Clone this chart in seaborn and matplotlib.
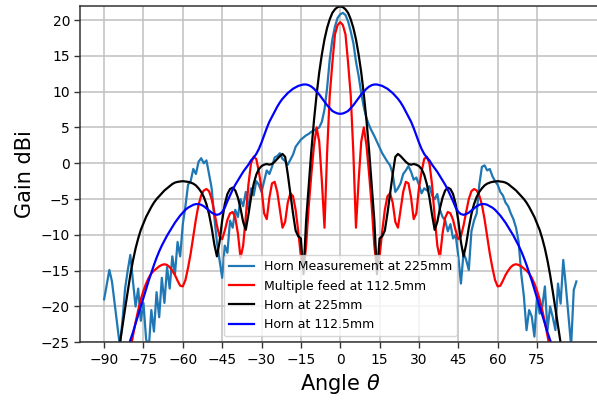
import numpy as np
import pandas as pd
import matplotlib
matplotlib.use("Agg")
import matplotlib.pyplot as plt
import seaborn as sns

angles = list(range(-90, 91))

measured = [
    -19.0, -17.0, -14.9, -16.5, -19.5, -22.5, -25.5, -22.0, -17.5, -15.0,
    -12.8, -16.5, -20.0, -17.5, -22.0, -19.5, -24.5, -26.0, -20.5, -23.5,
    -18.0, -21.5, -16.0, -19.5, -14.5, -17.5, -13.0, -15.5, -11.0, -13.0,
    -8.5, -6.0, -3.0, -2.5, -0.8, -1.5, 0.2, 0.7, 0.0, 0.4,
    -1.5, -3.5, -7.5, -11.0, -13.5, -16.0, -11.5, -12.5, -8.0, -9.0,
    -6.5, -7.5, -5.0, -6.0, -4.0, -6.5, -3.5, -4.5, -2.5, -3.0,
    -4.0, -2.5, -1.0, -1.5, -0.5, 0.8, 1.0, 1.4, 0.6, 0.3,
    -0.2, 0.5, 1.2, 2.3, 2.8, 3.3, 3.6, 3.9, 4.1, 4.4,
    4.6, 4.8, 5.0, 5.8, 7.5, 10.5, 14.5, 17.3, 19.1, 20.3,
    20.8,
    21.0, 20.7, 19.8, 18.4, 16.8, 14.2, 12.2, 9.8, 7.8, 6.3,
    5.3, 4.5, 3.8, 3.0, 2.2, 1.4, 0.8, 0.2, -0.3, -1.5,
    -4.0, -3.5, -2.8, -1.5, -1.0, -0.4, -1.2, -2.3, -2.0, -3.0,
    -4.2, -3.5, -3.8, -3.2, -4.5, -5.0, -4.3, -6.5, -7.5, -8.0,
    -9.5, -8.5, -10.5, -10.0, -13.0, -16.8, -12.5, -13.5, -14.9, -9.5,
    -8.0, -7.0, -3.0, -0.5, -0.3, -1.0, -0.8, -1.8, -2.5, -3.0,
    -4.0, -4.5, -5.5, -6.0, -7.0, -7.8, -9.0, -11.0, -15.5, -18.6,
    -23.3, -20.5, -21.4, -24.2, -18.6, -21.0, -20.0, -17.2, -23.3, -20.0,
    -21.5, -23.3, -16.8, -19.6, -13.5, -17.2, -21.4, -25.5, -17.7, -16.5,
]

multi_feed = [
    -45.0, -42.0, -39.0, -36.5, -34.0, -32.0, -30.0, -28.5, -29.5, -27.8,
    -26.0, -24.1, -22.2, -20.5, -19.0, -17.8, -16.8, -16.0, -15.4, -15.0,
    -14.7, -14.4, -14.2, -14.1, -14.2, -14.5, -15.0, -15.6, -16.4, -17.1,
    -17.2, -16.3, -14.6, -12.6, -10.2, -7.8, -5.8, -4.5, -3.8, -3.6,
    -3.9, -5.0, -6.8, -8.7, -10.2, -10.6, -9.4, -7.9, -7.0, -6.8,
    -7.6, -9.8, -13.2, -11.5, -7.5, -3.0, 0.0, 0.9, 0.6, -1.2,
    -3.5, -7.0, -7.8, -4.8, -2.8, -2.6, -4.0, -6.5, -9.0, -8.2,
    -5.5, -4.2, -4.6, -6.5, -9.5, -13.0, -15.0, -11.5, -6.0, -1.5,
    2.5, 5.0, 3.0, -2.5, -9.0, 1.5, 9.5, 14.0, 18.0, 19.3,
    19.7,
    19.3, 18.0, 14.0, 9.5, 1.5, -9.0, -2.5, 3.0, 5.0, 2.5,
    -1.5, -6.0, -11.5, -15.0, -13.0, -9.5, -6.5, -4.6, -4.2, -5.5,
    -8.2, -9.0, -6.5, -4.0, -2.6, -2.8, -4.8, -7.8, -7.0, -3.5,
    -1.2, 0.6, 0.9, 0.0, -3.0, -7.5, -11.5, -13.2, -9.8, -7.6,
    -6.8, -7.0, -7.9, -9.4, -10.6, -10.2, -8.7, -6.8, -5.0, -3.9,
    -3.6, -3.8, -4.5, -5.8, -7.8, -10.2, -12.6, -14.6, -16.3, -17.2,
    -17.1, -16.4, -15.6, -15.0, -14.5, -14.2, -14.1, -14.2, -14.4, -14.7,
    -15.0, -15.4, -16.0, -16.8, -17.8, -19.0, -20.5, -22.2, -24.1, -26.0,
    -27.8, -29.5, -28.5, -30.0, -32.0, -34.0, -36.5, -39.0, -42.0, -45.0,
]

horn_225 = [
    -45.0, -41.0, -37.0, -33.5, -30.5, -27.5, -25.2, -22.7, -20.3, -17.9,
    -15.6, -13.6, -11.9, -10.5, -9.3, -8.4, -7.5, -6.8, -6.1, -5.5,
    -5.0, -4.6, -4.2, -3.8, -3.5, -3.2, -2.9, -2.7, -2.6, -2.55,
    -2.5, -2.55, -2.6, -2.7, -2.85, -3.1, -3.5, -4.0, -4.7, -5.7,
    -7.1, -9.0, -11.3, -13.0, -11.0, -8.0, -5.7, -4.3, -3.6, -3.4,
    -3.8, -4.8, -6.3, -8.2, -9.3, -7.2, -4.8, -2.9, -1.6, -0.8,
    -0.4, -0.2, -0.1, -0.2, -0.1, 0.2, 0.6, 1.0, 1.3, 0.9,
    -1.5, -4.2, -7.0, -9.4, -10.2, -10.5, -15.5, -8.0, -3.0, 1.8,
    6.0, 9.6, 12.7, 15.2, 17.3, 18.9, 20.1, 21.0, 21.5, 21.8,
    21.9,
    21.8, 21.5, 21.0, 20.1, 18.9, 17.3, 15.2, 12.7, 9.6, 6.0,
    1.8, -3.0, -8.0, -15.5, -10.5, -10.2, -9.4, -7.0, -4.2, -1.5,
    0.9, 1.3, 1.0, 0.6, 0.2, -0.1, -0.2, -0.1, -0.2, -0.4,
    -0.8, -1.6, -2.9, -4.8, -7.2, -9.3, -8.2, -6.3, -4.8, -3.8,
    -3.4, -3.6, -4.3, -5.7, -8.0, -11.0, -13.0, -11.3, -9.0, -7.1,
    -5.7, -4.7, -4.0, -3.5, -3.1, -2.85, -2.7, -2.6, -2.55, -2.5,
    -2.55, -2.6, -2.7, -2.9, -3.2, -3.5, -3.8, -4.2, -4.6, -5.0,
    -5.5, -6.1, -6.8, -7.5, -8.4, -9.3, -10.5, -11.9, -13.6, -15.6,
    -17.9, -20.3, -22.7, -25.2, -27.5, -30.5, -33.5, -37.0, -41.0, -45.0,
]

horn_112 = [
    -40.0, -38.0, -36.0, -34.0, -32.5, -31.0, -29.5, -28.2, -27.0, -25.8,
    -24.7, -23.6, -22.4, -21.2, -20.0, -18.8, -17.6, -16.4, -15.3, -14.2,
    -13.2, -12.3, -11.5, -10.8, -10.1, -9.5, -8.9, -8.3, -7.8, -7.3,
    -6.9, -6.5, -6.2, -6.0, -5.8, -5.7, -5.7, -5.8, -6.0, -6.3,
    -6.6, -6.9, -7.1, -7.2, -7.1, -6.8, -6.2, -5.3, -4.5, -3.7,
    -3.0, -2.4, -1.8, -1.2, -0.7, -0.2, 0.4, 0.8, 1.3, 2.0,
    2.9, 3.9, 4.9, 5.8, 6.5, 7.2, 7.9, 8.5, 9.0, 9.4,
    9.8, 10.1, 10.4, 10.6, 10.8, 10.9, 11.0, 11.0, 10.9, 10.7,
    10.4, 10.0, 9.6, 9.1, 8.6, 8.1, 7.7, 7.3, 7.1, 6.95,
    6.9,
    6.95, 7.1, 7.3, 7.7, 8.1, 8.6, 9.1, 9.6, 10.0, 10.4,
    10.7, 10.9, 11.0, 11.0, 10.9, 10.8, 10.6, 10.4, 10.1, 9.8,
    9.4, 9.0, 8.5, 7.9, 7.2, 6.5, 5.8, 4.9, 3.9, 2.9,
    2.0, 1.3, 0.8, 0.4, -0.2, -0.7, -1.2, -1.8, -2.4, -3.0,
    -3.7, -4.5, -5.3, -6.2, -6.8, -7.1, -7.2, -7.1, -6.9, -6.6,
    -6.3, -6.0, -5.8, -5.7, -5.7, -5.8, -6.0, -6.2, -6.5, -6.9,
    -7.3, -7.8, -8.3, -8.9, -9.5, -10.1, -10.8, -11.5, -12.3, -13.2,
    -14.2, -15.3, -16.4, -17.6, -18.8, -20.0, -21.2, -22.4, -23.6, -24.7,
    -25.8, -27.0, -28.2, -29.5, -31.0, -32.5, -34.0, -36.0, -38.0, -40.0,
]

x_ticks = [-90, -75, -60, -45, -30, -15, 0, 15, 30, 45, 60, 75]
y_ticks = [-25, -20, -15, -10, -5, 0, 5, 10, 15, 20]

series = [
    ("Horn Measurement at 225mm", measured, "#1f77b4"),
    ("Multiple feed at 112.5mm", multi_feed, "red"),
    ("Horn at 225mm", horn_225, "black"),
    ("Horn at 112.5mm", horn_112, "blue"),
]

plt.rcParams["font.family"] = ["DejaVu Sans"]
fig = plt.figure(figsize=(5.97, 4.01), dpi=100)
ax = fig.add_axes([0.1348, 0.1464, 0.8702, 0.8394])

for name, vals, col in series:
    df = pd.DataFrame({"angle": angles, "gain": vals})
    sns.lineplot(data=df, x="angle", y="gain", color=col, label=name,
                 linewidth=1.6, ax=ax, sort=False, estimator=None)

ax.set_xlim(-99, 99)
ax.set_ylim(-25, 22)
ax.set_xticks(x_ticks)
ax.set_yticks(y_ticks)
ax.grid(True, color="#c0c0c0", linewidth=1.1)
ax.set_axisbelow(True)
ax.tick_params(labelsize=10, length=4, width=1, color="#333333")
for s in ax.spines.values():
    s.set_color("#333333")
    s.set_linewidth(1.1)
ax.set_xlabel(r"Angle $\theta$", fontsize=15)
ax.set_ylabel("Gain dBi", fontsize=15)
ax.legend(loc="lower center", fontsize=9, framealpha=0.8)

fig.savefig("out.png", dpi=100)
